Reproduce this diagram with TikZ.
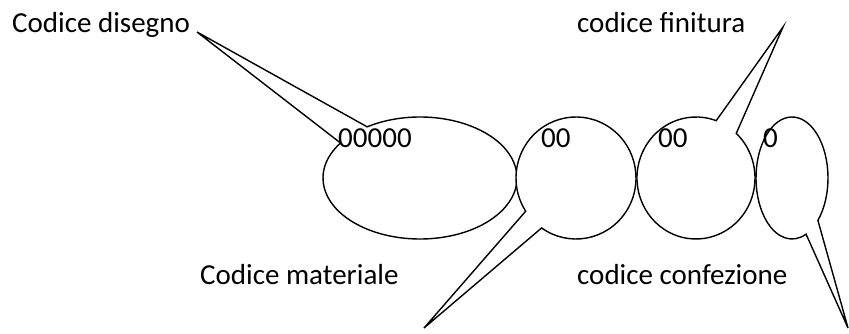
\documentclass[tikz,border=0pt]{standalone}
\usepackage{fontspec}
\setmainfont{Carlito}
\begin{document}
\begin{tikzpicture}[x=1pt,y=1pt,
  callout/.style={draw=black,fill=white,line width=1.4pt,line join=miter},
  lbl/.style={anchor=base west,inner sep=0pt,font=\fontsize{29}{34}\selectfont}]
\useasboundingbox (0,0) rectangle (849,334);
% centres
\coordinate (c1) at (420,156);
\coordinate (c2) at (576,156);
\coordinate (c3) at (696,156);
\coordinate (c4) at (792,156);
% tips
\coordinate (t1) at (197,302);
\coordinate (t2) at (424,6);
\coordinate (t3) at (783,307);
\coordinate (t4) at (848,6);
% callout 1
\draw[callout] ([shift={(145:97 and 61)}]c1) coordinate (a1)
  arc[start angle=145,end angle=483,x radius=97,y radius=61] -- (t1) -- cycle;
% callout 2
\draw[callout] ([shift={(235:60 and 61)}]c2) coordinate (a2)
  arc[start angle=235,end angle=573,x radius=60,y radius=61] -- (t2) -- cycle;
% callout 3
\draw[callout] ([shift={(70:59 and 61)}]c3) coordinate (a3)
  arc[start angle=70,end angle=407,x radius=59,y radius=61] -- (t3) -- cycle;
% callout 4
\draw[callout] ([shift={(-44:36 and 61)}]c4) coordinate (a4)
  arc[start angle=-44,end angle=293,x radius=36,y radius=61] -- (t4) -- cycle;
% texts
\node[lbl] (n1) at (338,186) {00000};
\node[lbl] (n2) at (541,186) {00};
\node[lbl] (n3) at (658,186) {00};
\node[lbl] (n4) at (763,186) {0};
\node[lbl] (l1) at (12,301) {Codice disegno};
\node[lbl] (l2) at (577,301) {codice finitura};
\node[lbl] (l3) at (200,49) {Codice materiale};
\node[lbl] (l4) at (577,49) {codice confezione};
\end{tikzpicture}
\end{document}
